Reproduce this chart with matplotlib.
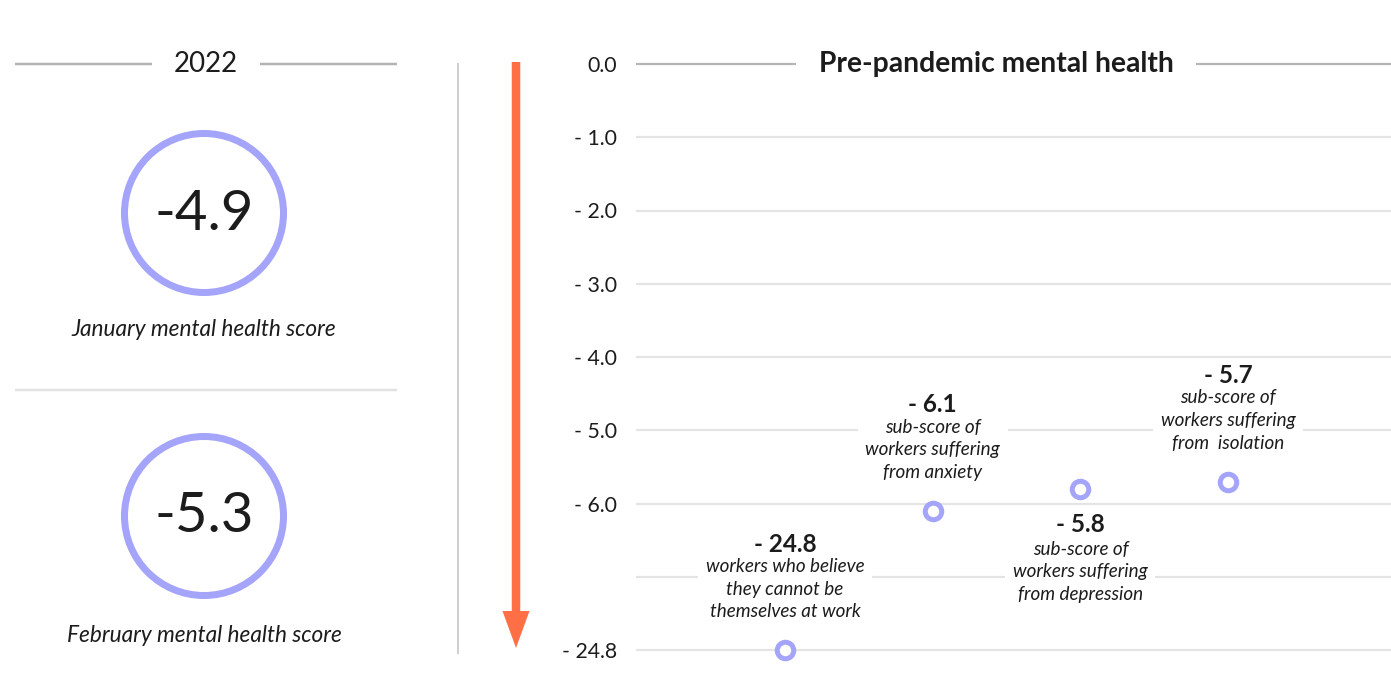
import matplotlib
matplotlib.use("Agg")
import matplotlib.pyplot as plt
from matplotlib.patches import Circle, FancyArrow

plt.rcParams['font.family'] = ['Lato', 'DejaVu Sans']

# ---------------- data ----------------
year_label = "2022"
month_labels = ["January mental health score", "February mental health score"]
month_scores = [-4.9, -5.3]

chart_title = "Pre-pandemic mental health"
item_labels = [
    "workers who believe\nthey cannot be\nthemselves at work",
    "sub-score of\nworkers suffering\nfrom anxiety",
    "sub-score of\nworkers suffering\nfrom depression",
    "sub-score of\nworkers suffering\nfrom  isolation",
]
item_values = [-24.8, -6.1, -5.8, -5.7]
label_above = [True, True, False, True]

tick_values = [0.0, -1.0, -2.0, -3.0, -4.0, -5.0, -6.0, -24.8]
break_level = -7.0   # unlabeled gap line of the broken axis

# ---------------- style ----------------
W, H = 1391, 688
PX = 72 / 100.0  # points per pixel at dpi 100
CIRCLE_C = "#a4a4fa"
ORANGE = "#ff6f45"
TXT = "#1c1c1c"
GRID = "#e4e4e4"
DARK_GRID = "#b4b4b4"


def ypos(v):
    """Broken axis: values below the break are drawn one step past it."""
    return v if v > break_level else break_level - 1.0


fig = plt.figure(figsize=(W / 100, H / 100), dpi=100)
fig.patch.set_facecolor("white")

# background overlay in pixel coordinates for decorations
bg = fig.add_axes([0, 0, 1, 1], zorder=0)
bg.set_xlim(0, W)
bg.set_ylim(H, 0)
bg.axis("off")

# ---- left panel ----
bg.plot([15, 397], [64, 64], color=DARK_GRID, lw=2.5 * PX, zorder=1, solid_capstyle="butt")
bg.text(206, 64, year_label, ha="center", va="center", fontsize=20, color=TXT,
        zorder=3, bbox=dict(boxstyle="square,pad=0.8", fc="white", ec="none"))
bg.plot([15, 397], [390, 390], color="#e2e2e2", lw=2.5 * PX, zorder=1, solid_capstyle="butt")

centers_y = [213, 516]
label_y = [330, 636]
for cy, ly, score, lab in zip(centers_y, label_y, month_scores, month_labels):
    bg.add_patch(Circle((204, cy), 79.5, fill=False, ec=CIRCLE_C, lw=7 * PX, zorder=2))
    bg.text(204, cy + 1, f"{score:.1f}", ha="center", va="center", fontsize=40.5,
            color=TXT, zorder=3)
    bg.text(204, ly, lab, ha="center", va="center", fontsize=16.3, style="italic",
            color=TXT, zorder=3)

# vertical divider
bg.plot([458, 458], [64, 653], color="#cfcfcf", lw=2 * PX, zorder=1)

# orange arrow
bg.add_patch(FancyArrow(516, 62, 0, 586, width=8.5, head_width=27, head_length=37,
                        length_includes_head=True, fc=ORANGE, ec="none", zorder=2))

# ---- right chart ----
top_px, unit_px = 64.0, 73.25
ax_top, ax_bot = 45.0, 670.0
y_hi = (top_px - ax_top) / unit_px
y_lo = -8.0 - (ax_bot - (top_px + 8 * unit_px)) / unit_px
left_px, right_px = 636.0, 1391.0
x0_px, xstep_px = 785.0, 147.67

ax = fig.add_axes([left_px / W, (H - ax_bot) / H, (right_px - left_px) / W,
                   (ax_bot - ax_top) / H], zorder=2)
ax.set_facecolor("none")
ax.set_ylim(y_lo, y_hi)
ax.set_xlim((left_px - x0_px) / xstep_px, (right_px - x0_px) / xstep_px)
for s in ax.spines.values():
    s.set_visible(False)
ax.set_xticks([])

tick_pos = [ypos(v) for v in tick_values]
tick_txt = ["0.0" if v == 0 else f"- {abs(v):.1f}" for v in tick_values]
ax.set_yticks(tick_pos)
ax.set_yticklabels(tick_txt)
ax.tick_params(axis="y", length=0, pad=19 * PX, labelsize=15.3, labelcolor=TXT)

grid_levels = tick_pos + [break_level]
for g in grid_levels:
    col = DARK_GRID if g == 0 else GRID
    ax.axhline(g, color=col, lw=2.2 * PX, zorder=1)

ax.text(0.477, 0.0, chart_title, transform=ax.get_yaxis_transform(), ha="center",
        va="center", fontsize=20.3, fontweight="bold", color=TXT, zorder=4,
        bbox=dict(boxstyle="square,pad=0.8", fc="white", ec="none"))

xs = list(range(len(item_values)))
ys = [ypos(v) for v in item_values]
ax.plot(xs, ys, linestyle="none", marker="o", ms=16.5 * PX, mfc="white",
        mec=CIRCLE_C, mew=5 * PX, zorder=5)

for x, y, v, lab, up in zip(xs, ys, item_values, item_labels, label_above):
    if up:
        off_body, off_num = 61, 106
    else:
        off_body, off_num = -83, -36
    ax.annotate(lab, (x, y), xytext=(0, off_body * PX), textcoords="offset points",
                ha="center", va="center", fontsize=13.6, style="italic", color=TXT,
                linespacing=1.4, zorder=4,
                bbox=dict(boxstyle="square,pad=0.4", fc="white", ec="none"))
    ax.annotate(f"- {abs(v):.1f}", (x, y), xytext=(0, off_num * PX),
                textcoords="offset points", ha="center", va="center", fontsize=17.5,
                fontweight="bold", color=TXT, zorder=4)

fig.savefig("out.png", dpi=100, facecolor="white")
